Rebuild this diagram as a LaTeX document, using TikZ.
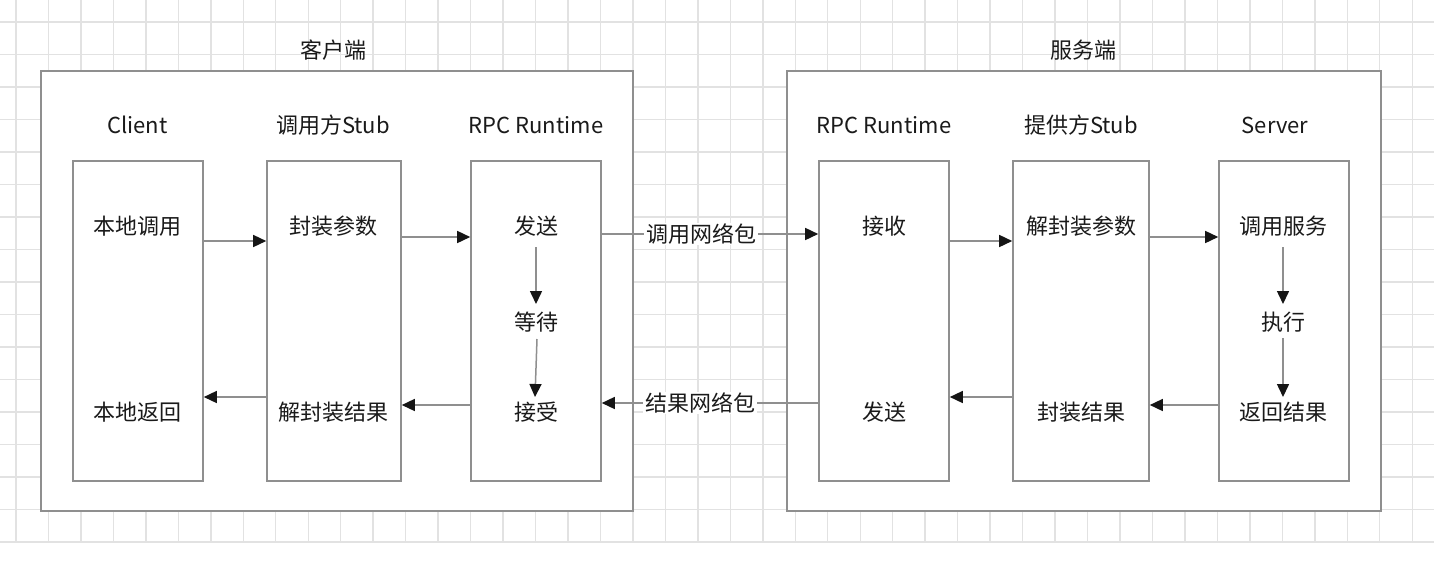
\documentclass[tikz,border=0pt]{standalone}
\usepackage{fontspec}
\setmainfont{Noto Sans CJK SC}
\usetikzlibrary{arrows.meta,calc}
\definecolor{gridc}{HTML}{E2E2E2}
\definecolor{linec}{HTML}{8F8F8F}
\definecolor{tipc}{HTML}{151515}
\definecolor{textc}{HTML}{1A1A1A}
\tikzset{
  outerbox/.style={draw=linec,line width=1.6pt,fill=white},
  innerbox/.style={draw=linec,line width=1.6pt,fill=white},
  lbl/.style={font=\fontsize{22}{26}\selectfont,text=textc,inner sep=0pt,anchor=center},
  netlbl/.style={lbl,fill=white,inner xsep=2pt,inner ysep=1pt},
  arr/.style={draw=linec,line width=1.5pt,-{Triangle[length=13pt,width=12pt,color=tipc]}},
}
\begin{document}
\begin{tikzpicture}[x=1pt,y=-1pt]
\useasboundingbox (0,0) rectangle (1434,568);
% grid
\foreach \k in {0,...,43}{
  \draw[gridc,line width=1.4pt] ({16+32.47*\k},0) -- ({16+32.47*\k},542);
}
\foreach \k in {0,...,16}{
  \draw[gridc,line width=1.4pt] (0,{22+32.5*\k}) -- (1434,{22+32.5*\k});
}
% outer boxes
\node[outerbox,minimum width=592pt,minimum height=440pt,inner sep=0pt] (cbox) at (337,291) {};
\node[outerbox,minimum width=594pt,minimum height=440pt,inner sep=0pt] (sbox) at (1084,291) {};
\node[lbl] (ctitle) at (333,50) {客户端};
\node[lbl] (stitle) at (1083,50) {服务端};
% inner boxes
\node[innerbox,minimum width=130pt,minimum height=320pt,inner sep=0pt] (b1) at (138,321) {};
\node[innerbox,minimum width=134pt,minimum height=320pt,inner sep=0pt] (b2) at (334,321) {};
\node[innerbox,minimum width=130pt,minimum height=320pt,inner sep=0pt] (b3) at (536,321) {};
\node[innerbox,minimum width=130pt,minimum height=320pt,inner sep=0pt] (b4) at (884,321) {};
\node[innerbox,minimum width=136pt,minimum height=320pt,inner sep=0pt] (b5) at (1081,321) {};
\node[innerbox,minimum width=130pt,minimum height=320pt,inner sep=0pt] (b6) at (1284,321) {};
% column labels
\node[lbl] (h1) at (137.5,125) {Client};
\node[lbl] (h2) at (333,125) {调用方Stub};
\node[lbl] (h3) at (536,125) {RPC Runtime};
\node[lbl] (h4) at (884,125) {RPC Runtime};
\node[lbl] (h5) at (1081,125) {提供方Stub};
\node[lbl] (h6) at (1275,125) {Server};
% texts
\node[lbl] (t1a) at (137,226) {本地调用};
\node[lbl] (t1b) at (137,412) {本地返回};
\node[lbl] (t2a) at (333,226) {封装参数};
\node[lbl] (t2b) at (333,412) {解封装结果};
\node[lbl] (t3a) at (536,226) {发送};
\node[lbl] (t3m) at (536,322) {等待};
\node[lbl] (t3b) at (536,412) {接受};
\node[lbl] (t4a) at (884,226) {接收};
\node[lbl] (t4b) at (884,412) {发送};
\node[lbl] (t5a) at (1081,226) {解封装参数};
\node[lbl] (t5b) at (1081,412) {封装结果};
\node[lbl] (t6a) at (1283,226) {调用服务};
\node[lbl] (t6m) at (1283,322) {执行};
\node[lbl] (t6b) at (1283,412) {返回结果};
% forward arrows
\draw[arr] (b1.east |- 0,241) -- (b2.west |- 0,241);
\draw[arr] (b2.east |- 0,237) -- (b3.west |- 0,237);
\draw[arr] (b3.east |- 0,234) -- (b4.west |- 0,234);
\node[netlbl] (n1) at (701,234) {调用网络包};
\draw[arr] (b4.east |- 0,241) -- (b5.west |- 0,241);
\draw[arr] (b5.east |- 0,237) -- (b6.west |- 0,237);
% vertical arrows
\draw[arr] ($(t3a.center)+(0,21)$) -- ($(t3m.center)+(0,-18)$);
\draw[arr] ($(t3m.center)+(1,17)$) -- ($(t3b.center)+(-1,-15)$);
\draw[arr] ($(t6a.center)+(0,21)$) -- ($(t6m.center)+(0,-18)$);
\draw[arr] ($(t6m.center)+(0,16)$) -- ($(t6b.center)+(0,-15)$);
% backward arrows
\draw[arr] (b6.west |- 0,405) -- (b5.east |- 0,405);
\draw[arr] (b5.west |- 0,397) -- (b4.east |- 0,397);
\draw[arr] (b4.west |- 0,403) -- (b3.east |- 0,403);
\node[netlbl] (n2) at (700,403) {结果网络包};
\draw[arr] (b3.west |- 0,405) -- (b2.east |- 0,405);
\draw[arr] (b2.west |- 0,397) -- (b1.east |- 0,397);
\end{tikzpicture}
\end{document}
